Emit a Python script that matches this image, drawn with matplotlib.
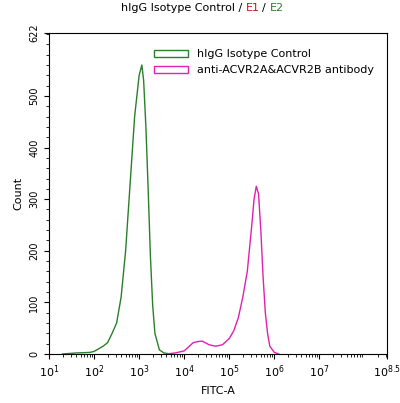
import numpy as np
import matplotlib
matplotlib.use("Agg")
import matplotlib.pyplot as plt
from matplotlib.ticker import FixedLocator, LogLocator, MultipleLocator
from matplotlib.patches import Patch

iso_logx = [1.3, 1.6, 1.9, 2.0, 2.2, 2.3, 2.4, 2.5, 2.6, 2.7, 2.8, 2.9, 3.0, 3.06, 3.1, 3.15, 3.2, 3.25, 3.3, 3.35, 3.45, 3.55, 3.7]
iso_y =    [0,   2,   3,   5,   15,  22,  40,  60,  110, 200, 330, 460, 540, 560, 530, 440, 320, 190, 95,  40,  8,   2,   0]
ab_logx = [3.6, 3.8, 4.0, 4.1, 4.2, 4.3, 4.4, 4.55, 4.7, 4.85, 5.0, 5.1, 5.2, 5.3, 5.4, 5.5, 5.55, 5.6, 5.65, 5.7, 5.75, 5.8, 5.85, 5.9, 6.0, 6.1]
ab_y =    [0,   2,   6,   14,  22,  24,  25,  18,   15,  18,   30,  45,  70,  110, 160, 250, 300, 325, 310, 240, 150, 80,  40,  15,  3,   0]

green = "#2a7f2a"; pink = "#e020b0"
fig = plt.figure(figsize=(4.0, 4.03), dpi=100)
ax = fig.add_axes([49/400, 1-354/403, 338/400, 321/403])
ax.plot(10**np.array(iso_logx), iso_y, color=green, lw=1)
ax.plot(10**np.array(ab_logx), ab_y, color=pink, lw=1)
ax.set_xscale("log")
ax.set_xlim(10, 10**8.5)
ax.set_ylim(0, 622)
ticks = [10**k for k in range(1, 8)] + [10**8.5]
ax.xaxis.set_major_locator(FixedLocator(ticks))
ax.set_xticklabels([f"$10^{{{k}}}$" for k in range(1, 8)] + ["$10^{8.5}$"], fontsize=8)
ax.xaxis.set_minor_locator(LogLocator(base=10, subs=np.arange(2, 10), numticks=20))
ax.set_yticks([0, 100, 200, 300, 400, 500, 622])
ax.yaxis.set_minor_locator(MultipleLocator(20))
for t in ax.get_yticklabels():
    t.set_rotation(90); t.set_va("center"); t.set_fontsize(7)
ax.set_xlabel("FITC-A", fontsize=8)
ax.set_ylabel("Count", fontsize=8)
handles = [Patch(facecolor="white", edgecolor=green, label="hIgG Isotype Control"),
           Patch(facecolor="white", edgecolor=pink, label="anti-ACVR2A&ACVR2B antibody")]
ax.legend(handles=handles, loc="upper right", bbox_to_anchor=(0.99, 0.98), frameon=False, fontsize=8,
          handlelength=3, handleheight=0.6)
fig.text(0.615, 0.972, "hIgG Isotype Control / ", ha="right", fontsize=8)
fig.text(0.615, 0.972, "E1", color="#d01010", ha="left", fontsize=8)
fig.text(0.655, 0.972, "/", ha="left", fontsize=8)
fig.text(0.675, 0.972, "E2", color=green, ha="left", fontsize=8)
fig.savefig("out.png", dpi=100)
